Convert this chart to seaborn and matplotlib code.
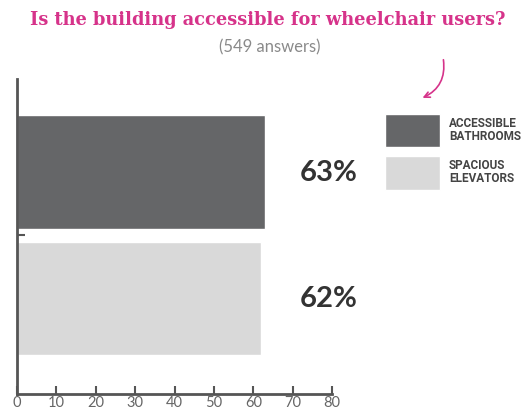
import pandas as pd
import seaborn as sns
import matplotlib.pyplot as plt

categories = ["ACCESSIBLE\nBATHROOMS", "SPACIOUS\nELEVATORS"]
values = [63, 62]
labels = ["63%", "62%"]
xticks = [0, 10, 20, 30, 40, 50, 60, 70, 80]
title = "Is the building accessible for wheelchair users?"
subtitle = "(549 answers)"

df = pd.DataFrame({"option": categories, "share": values})

sns.set_style("white")
plt.rcParams["font.family"] = ["Lato", "DejaVu Sans"]

fig = plt.figure(figsize=(5.23, 4.10), dpi=100)
ax = fig.add_axes([17 / 523, 1 - 395 / 410, 315 / 523, 315 / 410])

sns.barplot(data=df, x="share", y="option", hue="option", orient="h",
            palette=["#656668", "#d9d9d9"], width=0.9, dodge=False,
            legend=True, ax=ax, saturation=1)

ax.set_xlim(0, 80)
ax.set_ylim(1.758, -0.738)
ax.set_xticks(xticks)
ax.set_xticklabels([str(t) for t in xticks])
ax.set_yticks([0.5])
ax.set_yticklabels([])
ax.set_xlabel("")
ax.set_ylabel("")
ax.tick_params(axis="x", bottom=True, direction="in", length=6, width=1.5,
               color="#555555", labelsize=10.5, labelcolor="#666666", pad=1)
ax.tick_params(axis="y", left=True, direction="in", length=6, width=1.5,
               color="#555555")
for s in ["top", "right"]:
    ax.spines[s].set_visible(False)
for s in ["left", "bottom"]:
    ax.spines[s].set_color("#555555")
    ax.spines[s].set_linewidth(2)

for i, lab in enumerate(labels):
    ax.text(71.8, i, lab, ha="left", va="center", fontsize=21,
            fontweight="bold", color="#333333", clip_on=False)

leg = ax.legend(loc="upper left", bbox_to_anchor=(374 / 523, 1 - 104 / 410),
                bbox_transform=fig.transFigure, frameon=False,
                handlelength=4.7, handleheight=4.0, handletextpad=0.75,
                labelspacing=0.78,
                prop={"family": ["Roboto", "DejaVu Sans"],
                      "weight": "bold", "size": 8.5})
for t in leg.get_texts():
    t.set_color("#444444")
    t.set_linespacing(1.0)

fig.text(268 / 523, 1 - 20 / 410, title, ha="center", va="center",
         fontsize=12.8, fontweight="bold", color="#d6338a",
         family=["DejaVu Serif", "DejaVu Sans"])
fig.text(270 / 523, 1 - 47 / 410, subtitle, ha="center", va="center",
         fontsize=12, color="#8a8a8a")

ax.annotate("", xy=(420 / 523, 1 - 100 / 410), xytext=(443 / 523, 1 - 58 / 410),
            xycoords="figure fraction", textcoords="figure fraction",
            arrowprops=dict(arrowstyle="->", color="#d6338a", lw=1.2,
                            connectionstyle="arc3,rad=-0.4"))

fig.savefig("out.png", dpi=100)
